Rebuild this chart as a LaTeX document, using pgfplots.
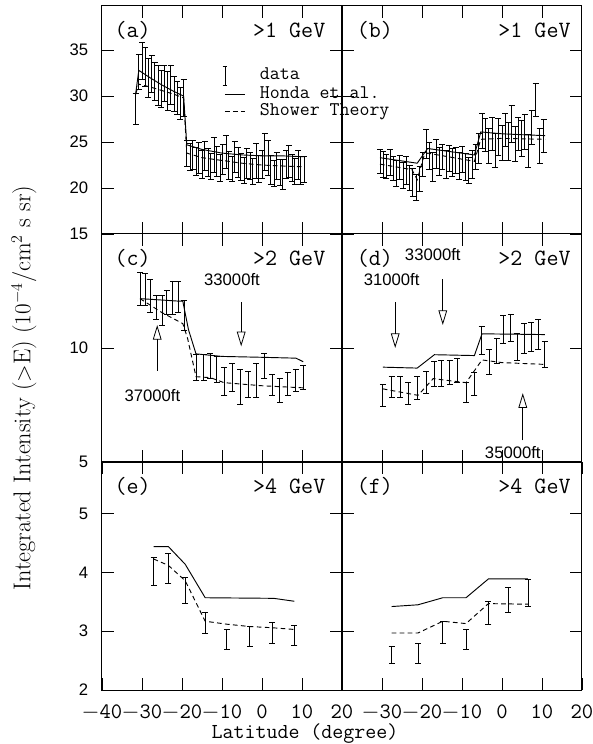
\documentclass[border=0pt]{standalone}
\usepackage{fontspec}
\usepackage{pgfplots}
\pgfplotsset{compat=1.18}
\usetikzlibrary{arrows.meta}
\newfontfamily\numsans{Liberation Sans}
\newcommand\tickfont{\fontsize{12.5}{14}\selectfont\numsans}
\newcommand\monofont{\fontsize{16.5}{19}\selectfont\ttfamily}
\newcommand\xlabfont{\fontsize{16}{18}\selectfont\ttfamily}
\newcommand\legfont{\fontsize{14.5}{16}\selectfont\ttfamily}
\newcommand\panelfont{\fontsize{17.5}{20}\selectfont\ttfamily}

\tikzset{altarrow/.style={-{Triangle[open, length=11pt, width=6.5pt]}, line width=0.6pt}}
\pgfplotsset{
  panel/.style={
    scale only axis, width=180pt, height=171pt,
    xmin=-40, xmax=20, xtick={-30,-20,-10,0,10}, xticklabels={},
    tick align=inside, major tick length=9pt, minor tick length=0pt,
    tick style={black, line width=0.6pt},
    axis line style={line width=0.75pt},
    yticklabel style={font=\tickfont, inner sep=0pt, xshift=-10.2pt},
    xticklabel style={font=\monofont, inner sep=0pt, yshift=-10.8pt},
  },
  dat/.style={draw=none, mark=none,
    error bars/y dir=both, error bars/y explicit,
    error bars/error bar style={draw=black, solid, line width=0.5pt},
    error bars/error mark options={rotate=90, mark size=2.2pt, draw=black, solid, line width=0.5pt}},
  honda/.style={black, line width=0.7pt, mark=none},
  shower/.style={black, line width=0.7pt, mark=none, dash pattern=on 3.5pt off 2.5pt},
  legdata/.style={legend image code/.code={
      \path (0pt,0pt) -- (15pt,0pt);
      \draw[black, line width=0.5pt] (0pt,-7pt)--(0pt,7pt) (-1.7pt,-7pt)--(1.7pt,-7pt) (-1.7pt,7pt)--(1.7pt,7pt);}},
  leghonda/.style={legend image code/.code={\draw[black, line width=0.7pt] (0pt,0pt)--(15pt,0pt);}},
  legshower/.style={legend image code/.code={\draw[black, line width=0.7pt, dash pattern=on 3.5pt off 2.5pt] (0pt,0pt)--(15pt,0pt);}},
}

\begin{document}
\begin{tikzpicture}
\useasboundingbox (-76.5pt,-40.5pt) rectangle (368.25pt,517.5pt);

% (a) >1 GeV, left
\begin{axis}[panel, at={(0pt,342pt)}, ymin=15, ymax=39.8,
  ytick={15,20,25,30,35}, yticklabels={15,20,25,30,35},
  legend cell align=left,
  legend style={at={(axis cs:-10.0,33.3)}, anchor=north west, draw=none, fill=none,
    font=\legfont, inner sep=0pt, row sep=0pt, column sep=11pt,
    nodes={inner sep=0pt, text height=9.6pt, text depth=3.6pt}}]
  \addplot[dat, legdata] table[x=x, y=y, y error=e] {
x y e
-31.6 28.6 1.7
-30.8 32.6 1.9
-30.0 33.8 2.0
-29.2 33.2 2.1
-28.4 32.0 2.1
-27.6 32.4 2.0
-26.8 31.6 2.1
-26.0 31.2 2.2
-25.2 30.8 2.0
-24.4 31.4 2.0
-23.6 30.6 2.1
-22.8 31.2 2.1
-22.0 30.2 1.9
-21.2 29.8 1.8
-20.4 29.2 1.7
-19.6 29.8 2.0
-18.8 23.8 1.4
-18.0 23.4 1.5
-17.3 23.6 1.6
-16.5 22.9 1.5
-15.8 23.3 1.7
-15.0 22.6 1.5
-14.3 23.5 1.6
-13.5 22.8 1.5
-12.8 22.4 1.4
-12.0 23.6 1.9
-11.3 22.9 1.6
-10.5 22.2 1.5
-9.8 23.1 1.6
-9.0 23.9 1.8
-8.3 22.5 1.5
-7.5 22.1 1.4
-6.8 23.4 1.7
-6.0 22.8 1.6
-5.3 22.3 1.5
-4.5 21.9 1.4
-3.8 22.7 1.6
-3.0 22.4 1.5
-2.3 21.8 1.4
-1.5 23.0 1.9
-0.8 22.1 1.5
0.0 22.6 1.5
0.7 23.9 2.0
1.5 23.3 1.9
2.2 22.0 1.6
3.0 21.6 1.4
3.7 22.4 1.5
4.5 21.7 1.4
5.2 21.5 1.6
6.0 22.6 1.5
6.7 22.9 1.7
7.5 22.2 1.5
8.2 21.8 1.4
9.0 22.5 1.6
9.7 21.9 1.5
10.5 22.0 1.4
};
  \addlegendentry{data}
  \addplot[honda, leghonda] coordinates {
    (-31.6,30.2) (-30.8,32.8) (-28,32.0) (-25,31.2) (-22,30.5) (-19.6,30.0)
    (-18.8,24.7) (-15,24.2) (-10,23.8) (-5,23.6) (0,23.5) (5,23.5) (10.5,23.4)};
  \addlegendentry{Honda et al.}
  \addplot[shower, legshower] coordinates {
    (-31.6,30.2) (-30.8,31.3) (-28,31.0) (-25,30.6) (-22,30.2) (-19.6,29.8)
    (-18.8,23.8) (-15,23.3) (-10,23.0) (-5,22.7) (0,22.5) (5,22.4) (10.5,22.3)};
  \addlegendentry{Shower Theory}
  \node[anchor=west, font=\panelfont] at (rel axis cs:0.033,0.895) {(a)};
  \node[anchor=east, font=\panelfont] at (rel axis cs:0.95,0.895) {>1 GeV};
\end{axis}

% (b) >1 GeV, right
\begin{axis}[panel, at={(180pt,342pt)}, ymin=15, ymax=39.8,
  ytick={15,20,25,30,35}, yticklabels={}]
  \addplot[dat] table[x=x, y=y, y error=e] {
x y e
-30.5 22.9 1.3
-29.7 22.6 1.4
-28.9 22.4 1.3
-28.0 22.8 1.4
-27.2 22.1 1.3
-26.4 21.6 1.4
-25.6 22.3 1.3
-24.7 21.4 1.4
-23.9 21.9 1.5
-23.1 21.1 1.4
-22.3 20.6 1.5
-21.4 20.1 1.4
-20.6 21.0 1.4
-19.8 22.6 1.3
-19.0 24.8 1.6
-18.2 23.5 1.5
-17.3 22.3 1.6
-16.5 23.7 1.6
-15.7 22.9 1.5
-14.9 23.4 1.4
-14.0 22.6 1.5
-13.2 23.2 1.4
-12.4 22.8 1.5
-11.6 23.0 1.4
-10.7 22.4 1.5
-9.9 23.1 1.4
-9.1 22.3 1.5
-8.3 21.9 1.4
-7.4 22.6 1.5
-6.6 23.4 1.4
-5.8 24.3 1.6
-5.0 26.2 1.9
-4.2 25.8 1.8
-3.3 24.6 1.9
-2.5 25.9 1.8
-1.7 24.1 1.9
-0.9 25.6 2.0
0.0 24.9 1.9
0.8 26.3 1.8
1.6 25.1 2.1
2.4 27.0 2.0
3.3 24.8 1.9
4.1 25.9 1.8
4.9 25.4 2.0
5.7 26.1 1.9
6.5 24.0 1.8
7.4 26.6 1.9
8.4 29.6 1.8
9.4 24.6 1.9
10.4 25.7 1.8
};
  \addplot[honda] coordinates {
    (-30.5,23.3) (-21.2,22.7) (-18.6,24.3) (-6.9,23.6) (-5.3,26.1) (0,25.9) (5,25.8) (10.8,25.7)};
  \addplot[shower] coordinates {
    (-30.5,22.6) (-22.5,22.0) (-21.2,20.9) (-19.5,23.5) (-18.6,23.8) (-6.9,22.9) (-5.3,25.3) (0,25.4) (10.8,25.3)};
  \node[anchor=west, font=\panelfont] at (rel axis cs:0.042,0.895) {(b)};
  \node[anchor=east, font=\panelfont] at (rel axis cs:0.972,0.895) {>1 GeV};
\end{axis}

% (c) >2 GeV, left
\begin{axis}[panel, at={(0pt,171pt)}, ymode=log, ymin=5, ymax=20,
  ytick={5,10}, yticklabels={5,10}]
  \addplot[dat] table[x=x, y=y, y error=e] {
x y e
-30.5 14.42 1.45
-29.2 14.34 1.37
-28.0 13.80 1.40
-26.5 12.85 0.95
-25.0 12.65 1.15
-23.8 13.25 0.95
-22.3 13.65 1.35
-21.0 13.68 1.28
-19.4 12.25 1.15
-16.4 8.90 0.70
-14.6 8.90 0.70
-12.9 9.00 0.70
-11.3 8.80 0.70
-9.4 8.20 0.70
-7.5 8.40 0.70
-5.4 7.95 0.85
-3.5 8.05 0.65
-1.4 8.25 0.85
0.6 9.00 0.70
2.5 8.00 0.50
4.4 7.75 0.55
6.4 8.05 0.55
8.4 8.25 0.55
10.3 8.40 0.60
};
  \addplot[honda] coordinates {
    (-30.5,13.5) (-21,13.3) (-19.8,13.3) (-18.4,11.2) (-16.5,9.65) (-10,9.5) (0,9.45) (8.5,9.4) (10.3,9.2)};
  \addplot[shower] coordinates {
    (-30.5,13.5) (-25,12.4) (-19.8,11.6) (-18.6,10.6) (-16.5,8.4) (-12.9,8.35) (-9.5,8.1) (0,7.95) (10.3,7.85)};
  \node[anchor=west, font=\panelfont] at (rel axis cs:0.033,0.895) {(c)};
  \node[anchor=east, font=\panelfont] at (rel axis cs:0.95,0.895) {>2 GeV};
  \node[font=\tickfont] at (axis cs:-7.5,15.2) {33000ft};
  \draw[altarrow] (axis cs:-5.2,13.2) -- (axis cs:-5.2,10.1);
  \node[font=\tickfont] at (axis cs:-27.4,7.5) {37000ft};
  \draw[altarrow] (axis cs:-26.2,8.7) -- (axis cs:-26.2,11.5);
\end{axis}

% (d) >2 GeV, right
\begin{axis}[panel, at={(180pt,171pt)}, ymode=log, ymin=5, ymax=20,
  ytick={5,10}, yticklabels={}]
  \addplot[dat] table[x=x, y=y, y error=e] {
x y e
-29.8 7.50 0.50
-27.6 7.90 0.50
-25.5 7.90 0.50
-23.5 7.60 0.50
-21.2 7.85 0.55
-18.9 8.15 0.55
-17.0 8.55 0.65
-15.2 8.60 0.70
-13.1 8.65 0.65
-11.2 8.75 0.65
-9.0 7.65 0.45
-6.9 8.05 0.55
-5.1 10.50 0.90
-3.2 9.20 0.70
-1.3 9.85 0.75
0.3 11.25 0.95
2.2 11.35 0.95
3.8 10.10 0.80
5.5 10.65 0.95
7.3 10.75 0.95
9.0 10.90 1.00
10.7 9.65 0.75
};
  \addplot[honda] coordinates {
    (-29.8,8.9) (-21.2,8.85) (-16.9,9.6) (-6.9,9.55) (-5.0,10.9) (10.7,10.85)};
  \addplot[shower] coordinates {
    (-29.8,7.8) (-21,7.5) (-17.2,8.3) (-9,8.1) (-5,9.3) (0,9.15) (10.7,9.05)};
  \node[anchor=west, font=\panelfont] at (rel axis cs:0.042,0.895) {(d)};
  \node[anchor=east, font=\panelfont] at (rel axis cs:0.972,0.895) {>2 GeV};
  \node[font=\tickfont] at (axis cs:-27.6,15.2) {31000ft};
  \draw[altarrow] (axis cs:-26.7,13.2) -- (axis cs:-26.7,10.0);
  \node[font=\tickfont] at (axis cs:-17.3,17.6) {33000ft};
  \draw[altarrow] (axis cs:-14.8,15.2) -- (axis cs:-14.8,11.5);
  \node[font=\tickfont] at (axis cs:2.7,5.3) {35000ft};
  \draw[altarrow] (axis cs:5.2,5.7) -- (axis cs:5.2,7.6);
\end{axis}

% (e) >4 GeV, left
\begin{axis}[panel, at={(0pt,0pt)}, ymin=2, ymax=5.88,
  ytick={2,3,4,5}, yticklabels={2,3,4,5},
  xtick={-40,-30,-20,-10,0,10,20},
  xticklabels={$-$40,$-$30,$-$20,$-$10,0,10,20}]
  \addplot[dat] table[x=x, y=y, y error=e] {
x y e
-27.1 4.02 0.24
-23.4 4.07 0.25
-19.2 3.70 0.22
-14.2 3.15 0.18
-8.8 2.86 0.17
-3.1 2.92 0.17
2.5 2.98 0.18
8.1 2.93 0.17
};
  \addplot[honda] coordinates {
    (-27.1,4.44) (-23.4,4.44) (-19.2,4.14) (-14.2,3.57) (2.9,3.56) (8.1,3.51)};
  \addplot[shower] coordinates {
    (-27.1,4.23) (-23.4,4.12) (-19.2,3.86) (-14.2,3.17) (-8.8,3.12) (-3.1,3.08) (2.5,3.06) (8.1,3.03)};
  \node[anchor=west, font=\panelfont] at (rel axis cs:0.033,0.895) {(e)};
  \node[anchor=east, font=\panelfont] at (rel axis cs:0.95,0.895) {>4 GeV};
\end{axis}

% (f) >4 GeV, right
\begin{axis}[panel, at={(180pt,0pt)}, ymin=2, ymax=5.88,
  ytick={2,3,4,5}, yticklabels={},
  xtick={-30,-20,-10,0,10,20},
  xticklabels={$-$30,$-$20,$-$10,0,10,20}]
  \addplot[dat] table[x=x, y=y, y error=e] {
x y e
-27.6 2.60 0.15
-21.0 2.63 0.17
-14.8 2.98 0.19
-9.0 2.86 0.17
-3.4 3.31 0.20
1.5 3.54 0.21
6.5 3.66 0.23
};
  \addplot[honda] coordinates {
    (-27.6,3.42) (-21,3.45) (-14.8,3.57) (-9,3.57) (-3.4,3.89) (6.5,3.89)};
  \addplot[shower] coordinates {
    (-27.6,2.97) (-21,2.97) (-14.8,3.17) (-9,3.13) (-3.4,3.47) (6.5,3.46)};
  \node[anchor=west, font=\panelfont] at (rel axis cs:0.042,0.895) {(f)};
  \node[anchor=east, font=\panelfont] at (rel axis cs:0.972,0.895) {>4 GeV};
\end{axis}

\node[rotate=90, font=\fontsize{18.2}{21}\selectfont] at (-58.5pt,226.5pt)
  {Integrated Intensity ($>$E) ($10^{-4}$/cm$^2$ s sr)};
\node[font=\xlabfont] at (152.25pt,-33pt) {Latitude (degree)};
\end{tikzpicture}
\end{document}
